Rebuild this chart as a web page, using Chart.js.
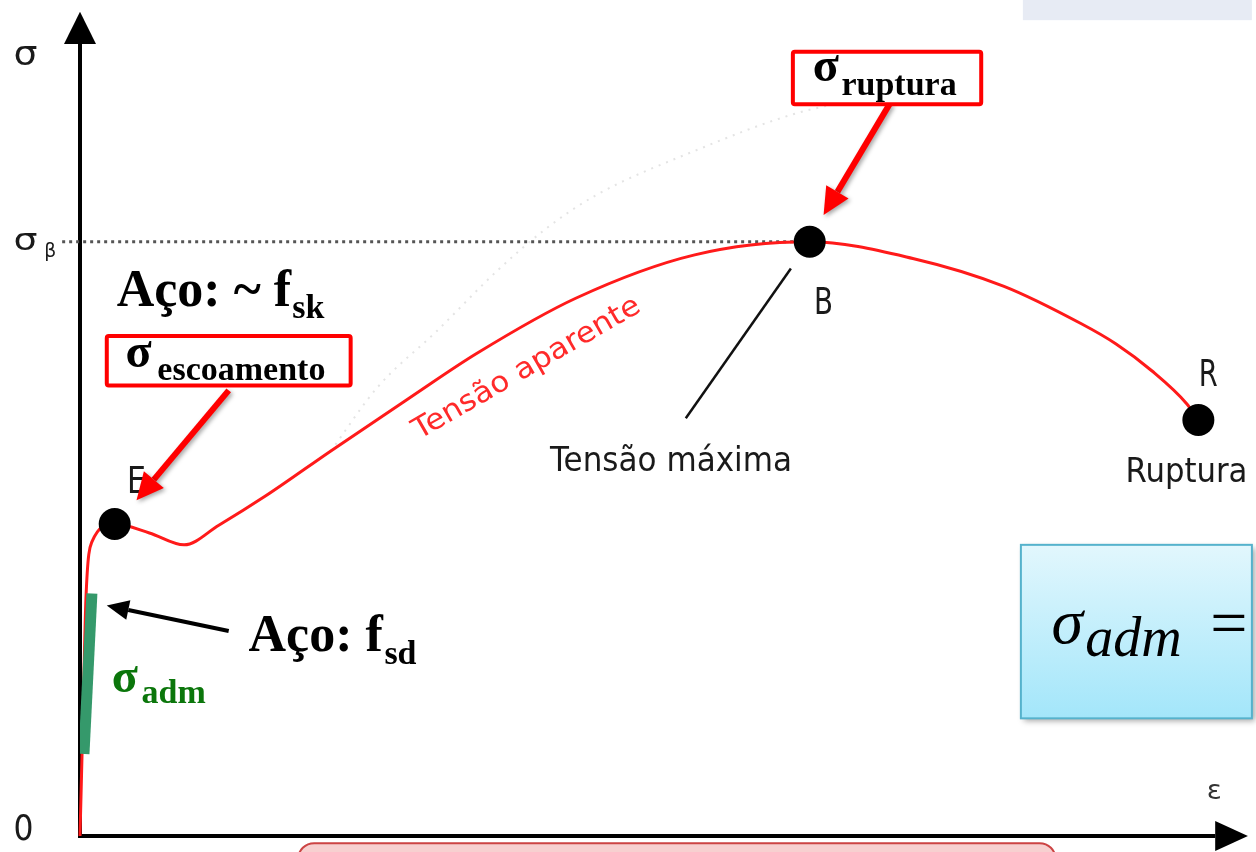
<!DOCTYPE html>
<html lang="pt">
<head>
<meta charset="utf-8">
<title>Diagrama tensão x deformação</title>
<script src="https://cdn.jsdelivr.net/npm/chart.js@4.4.1/dist/chart.umd.min.js"></script>
<style>
  html, body { margin: 0; padding: 0; background: #fff; }
  canvas { display: block; }
</style>
</head>
<body>
<canvas id="diagram" width="1256" height="852"></canvas>
<script>
// curva tensão aparente (deformação, tensão)
const curveStrain = [0, 0.3, 0.6, 1.2, 3.5, 7.0, 10.5, 14.0, 18.7, 25.3, 33.3, 40.0, 50.0, 62.0, 73.6, 84.0, 93.2, 101.0, 104.5, 108.1, 111.6, 112.8];
const curveStress = [0, 20.0, 40.0, 49.5, 52.5, 51.0, 49.0, 52.3, 57.2, 64.8, 73.8, 81.2, 90.5, 97.8, 100, 97.2, 92.5, 86.2, 82.8, 78.3, 72.8, 70.0];

// curva tensão real (pontilhada, quase apagada)
const trueStrain = [25.3, 30, 36, 42, 47, 52, 62, 72, 80];
const trueStress = [64.8, 75.5, 85, 95, 102.2, 107.8, 115.3, 121.5, 124.5];

// pontos notáveis E, B, R
const keyLabels = ["E", "B", "R"];
const keyStrain = [3.5, 73.6, 112.8];
const keyStress = [52.5, 100, 70.0];

// linha de referência σβ
const ultimateStress = 100;
const ultimateLineStrain = [-1.8, 72];

// trecho σadm (verde)
const admStrain = [1.2, 0.4];
const admStress = [40.8, 13.8];

// traço "Tensão máxima"
const pointerStrain = [71.7, 61.1];
const pointerStress = [95.5, 70.3];

const toPoints = (xs, ys) => xs.map((x, i) => ({ x: x, y: ys[i] }));

const diagramPlugin = {
  id: "diagram",
  beforeDatasetsDraw(chart) {
    const ctx = chart.ctx;
    const P = (e, s) => [chart.scales.x.getPixelForValue(e), chart.scales.y.getPixelForValue(s)];
    ctx.save();

    // retângulo cinza no canto superior
    let a = P(95.1, 140.8), b = P(118.2, 137.3);
    ctx.fillStyle = "#e7ebf4";
    ctx.fillRect(a[0], a[1], b[0] - a[0], b[1] - a[1]);

    // eixos
    const o = P(0, 0);
    const yTop = P(0, 133.3), yTip = P(0, 138.7);
    const xEnd = P(114.5, 0), xTip = P(117.8, 0);
    ctx.strokeStyle = "#000";
    ctx.fillStyle = "#000";
    ctx.lineWidth = 4;
    ctx.beginPath();
    ctx.moveTo(o[0], o[1] + 2);
    ctx.lineTo(yTop[0], yTop[1]);
    ctx.moveTo(o[0] - 2, o[1]);
    ctx.lineTo(xEnd[0], xEnd[1]);
    ctx.stroke();
    ctx.beginPath();
    ctx.moveTo(yTip[0], yTip[1]);
    ctx.lineTo(yTop[0] - 16, yTop[1]);
    ctx.lineTo(yTop[0] + 16, yTop[1]);
    ctx.closePath();
    ctx.fill();
    ctx.beginPath();
    ctx.moveTo(xTip[0], xTip[1]);
    ctx.lineTo(xEnd[0], xEnd[1] - 15);
    ctx.lineTo(xEnd[0], xEnd[1] + 15);
    ctx.closePath();
    ctx.fill();

    // caixa vermelha arredondada embaixo (só a borda de cima aparece)
    a = P(22, -1.2); b = P(98.4, -6.7);
    ctx.fillStyle = "#f7d0d0";
    ctx.strokeStyle = "#cc4444";
    ctx.lineWidth = 2;
    ctx.beginPath();
    ctx.roundRect(a[0], a[1], b[0] - a[0], b[1] - a[1], 16);
    ctx.fill();
    ctx.stroke();
    ctx.restore();
  },
  afterDatasetsDraw(chart) {
    const ctx = chart.ctx;
    const P = (e, s) => [chart.scales.x.getPixelForValue(e), chart.scales.y.getPixelForValue(s)];

    function sans(text, e, s, size, width, color) {
      const p = P(e, s);
      ctx.save();
      ctx.font = size + 'px "DejaVu Sans"';
      const w = ctx.measureText(text).width;
      ctx.translate(p[0], p[1]);
      ctx.scale(width / w, 1);
      ctx.textAlign = "center";
      ctx.textBaseline = "alphabetic";
      ctx.fillStyle = color || "#1a1a1a";
      ctx.fillText(text, 0, 0);
      ctx.restore();
    }

    function serif(text, e, s, font, color) {
      const p = P(e, s);
      ctx.save();
      ctx.font = font;
      ctx.textAlign = "left";
      ctx.textBaseline = "alphabetic";
      ctx.fillStyle = color || "#000";
      ctx.fillText(text, p[0], p[1]);
      ctx.restore();
    }

    function arrow(from, to, width, headLen, headW, color, shadow) {
      const p1 = P(from[0], from[1]), p2 = P(to[0], to[1]);
      const ang = Math.atan2(p2[1] - p1[1], p2[0] - p1[0]);
      const bx = p2[0] - headLen * Math.cos(ang), by = p2[1] - headLen * Math.sin(ang);
      ctx.save();
      if (shadow) {
        ctx.shadowColor = "rgba(0,0,0,0.35)";
        ctx.shadowBlur = 4;
        ctx.shadowOffsetX = 2;
        ctx.shadowOffsetY = 2;
      }
      ctx.strokeStyle = color;
      ctx.fillStyle = color;
      ctx.lineWidth = width;
      ctx.beginPath();
      ctx.moveTo(p1[0], p1[1]);
      ctx.lineTo(bx, by);
      ctx.stroke();
      ctx.beginPath();
      ctx.moveTo(p2[0], p2[1]);
      ctx.lineTo(bx + headW * Math.sin(ang), by - headW * Math.cos(ang));
      ctx.lineTo(bx - headW * Math.sin(ang), by + headW * Math.cos(ang));
      ctx.closePath();
      ctx.fill();
      ctx.restore();
    }

    function redBox(l, t, r, bt) {
      const a = P(l, t), b = P(r, bt);
      ctx.save();
      ctx.fillStyle = "#fff";
      ctx.strokeStyle = "#ff0000";
      ctx.lineWidth = 4;
      ctx.beginPath();
      ctx.roundRect(a[0] + 2, a[1] + 2, b[0] - a[0] - 4, b[1] - a[1] - 4, 2);
      ctx.fill();
      ctx.stroke();
      ctx.restore();
    }

    // rótulos dos eixos
    sans("σ", -5.5, 129.7, 34, 24);
    sans("σ", -5.5, 98.7, 30, 24);
    sans("β", -3.0, 97.5, 20, 12);
    sans("0", -5.7, -0.7, 36, 20);
    sans("ε", 114.4, 6.2, 26, 15, "#333");

    // letras dos pontos e textos
    keyLabels.forEach((lbl, i) => {
      const off = [[2.2, 5.2], [1.4, -12.2], [1.0, 5.8]][i];
      sans(lbl, keyStrain[i] + off[0], keyStress[i] + off[1], 38, 19);
    });
    sans("Tensão máxima", 59.6, 61.5, 34, 242);
    sans("Ruptura", 111.6, 59.5, 34, 122);

    // "Tensão aparente" inclinado
    let p = P(34.2, 66.7);
    ctx.save();
    ctx.translate(p[0], p[1]);
    ctx.rotate(-30 * Math.PI / 180);
    ctx.font = '29px "DejaVu Sans"';
    const tw = ctx.measureText("Tensão aparente").width;
    ctx.scale(258 / tw, 1);
    ctx.fillStyle = "#ff2a2a";
    ctx.textAlign = "left";
    ctx.fillText("Tensão aparente", 0, 0);
    ctx.restore();

    // setas
    arrow([81.7, 123.3], [75.0, 104.5], 6, 27, 13, "#ff0000", true);
    arrow([15.0, 75.0], [5.7, 56.5], 6, 27, 13, "#ff0000", true);
    arrow([15.0, 34.5], [2.7, 38.8], 4, 22, 10, "#000", false);

    // caixas vermelhas
    redBox(71.7, 132.3, 91.1, 122.8);
    serif("σ", 73.9, 127.0, 'bold 48px "Liberation Serif"');
    serif("ruptura", 76.8, 124.7, 'bold 34px "Liberation Serif"');
    redBox(2.5, 84.5, 27.5, 75.5);
    serif("σ", 4.6, 79.0, 'bold 48px "Liberation Serif"');
    serif("escoamento", 7.8, 76.7, 'bold 34px "Liberation Serif"');

    // textos do aço
    serif("Aço: ~ f", 3.7, 89.2, 'bold 52px "Liberation Serif"');
    serif("sk", 21.4, 87.2, 'bold 34px "Liberation Serif"');
    serif("Aço: f", 17.0, 31.2, 'bold 52px "Liberation Serif"');
    serif("sd", 30.7, 29.0, 'bold 34px "Liberation Serif"');
    serif("σ", 3.2, 24.3, 'bold 48px "Liberation Serif"', "#0b760b");
    serif("adm", 6.2, 22.3, 'bold 34px "Liberation Serif"', "#0b760b");

    // caixa azul com a fórmula
    const a = P(94.9, 49.0), b = P(118.2, 19.8);
    ctx.save();
    const grad = ctx.createLinearGradient(0, a[1], 0, b[1]);
    grad.addColorStop(0, "#e2f7fd");
    grad.addColorStop(1, "#a3e6fa");
    ctx.shadowColor = "rgba(0,0,0,0.35)";
    ctx.shadowBlur = 6;
    ctx.shadowOffsetX = 3;
    ctx.shadowOffsetY = 3;
    ctx.fillStyle = grad;
    ctx.fillRect(a[0], a[1], b[0] - a[0], b[1] - a[1]);
    ctx.shadowColor = "transparent";
    ctx.strokeStyle = "#55b2cc";
    ctx.lineWidth = 2;
    ctx.strokeRect(a[0], a[1], b[0] - a[0], b[1] - a[1]);
    ctx.restore();
    serif("σ", 98.0, 32.5, 'italic 64px "Liberation Serif"');
    serif("adm", 101.4, 30.3, 'italic 56px "Liberation Serif"');
    serif("=", 114.0, 32.2, '66px "Liberation Serif"');
  }
};

new Chart(document.getElementById("diagram").getContext("2d"), {
  type: "scatter",
  data: {
    datasets: [
      {
        label: "Pontos",
        data: toPoints(keyStrain, keyStress),
        pointRadius: 16,
        pointBackgroundColor: "#000",
        pointBorderWidth: 0,
        showLine: false,
        order: 0,
      },
      {
        label: "σadm",
        data: toPoints(admStrain, admStress),
        showLine: true,
        borderColor: "#35996b",
        borderWidth: 11,
        borderCapStyle: "butt",
        pointRadius: 0,
        order: 1,
      },
      {
        label: "Tensão aparente",
        data: toPoints(curveStrain, curveStress),
        showLine: true,
        borderColor: "#ff1a1a",
        borderWidth: 3,
        pointRadius: 0,
        cubicInterpolationMode: "monotone",
        clip: false,
        order: 2,
      },
      {
        label: "Tensão máxima",
        data: toPoints(pointerStrain, pointerStress),
        showLine: true,
        borderColor: "#111",
        borderWidth: 2.5,
        pointRadius: 0,
        order: 3,
      },
      {
        label: "σβ",
        data: ultimateLineStrain.map((x) => ({ x: x, y: ultimateStress })),
        showLine: true,
        borderColor: "#555",
        borderWidth: 3,
        borderDash: [3, 4],
        pointRadius: 0,
        clip: false,
        order: 4,
      },
      {
        label: "Tensão real",
        data: toPoints(trueStrain, trueStress),
        showLine: true,
        borderColor: "#e4e4e4",
        borderWidth: 2,
        borderDash: [2, 6],
        pointRadius: 0,
        cubicInterpolationMode: "monotone",
        order: 5,
      },
    ],
  },
  options: {
    responsive: false,
    animation: false,
    layout: { padding: { left: 80, right: 6, top: 12, bottom: 12 } },
    plugins: {
      legend: { display: false },
      tooltip: { enabled: false },
    },
    scales: {
      x: { type: "linear", min: 0, max: 117, display: false },
      y: { type: "linear", min: 0, max: 138, display: false },
    },
  },
  plugins: [diagramPlugin],
});
</script>
</body>
</html>
